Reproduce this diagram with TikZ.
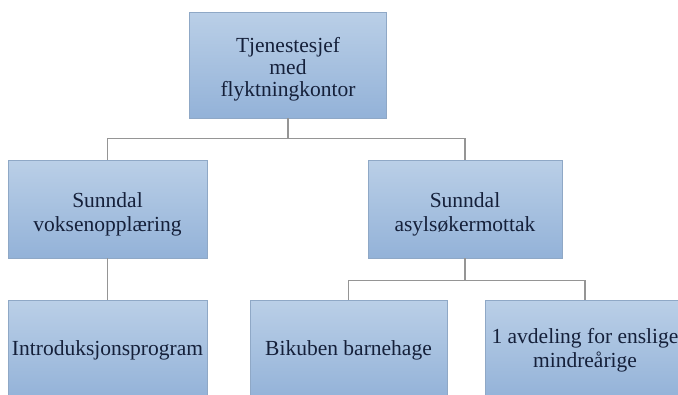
\documentclass[tikz,border=0pt]{standalone}
\usepackage{fontspec}
\setmainfont{Liberation Serif}
\newfontfamily\boxfont{Liberation Serif}
\begin{document}
\begin{tikzpicture}[x=1pt,y=1pt,
  orgbox/.style={draw=boxline, line width=0.8pt, top color=boxtop, bottom color=boxbot,
    text=navy, align=center, font=\boxfont\fontsize{21.5}{24}\selectfont, inner sep=2pt},
  boxtext/.style={text=navy, align=center, font=\boxfont\fontsize{21.5}{24}\selectfont, inner sep=0pt},
  link/.style={draw=linkgray, line width=1.4pt}]
\definecolor{boxtop}{HTML}{BACFE7}
\definecolor{boxbot}{HTML}{93B2D8}
\definecolor{boxline}{HTML}{8FA8C6}
\definecolor{navy}{HTML}{15203A}
\definecolor{linkgray}{HTML}{959595}
\useasboundingbox (0,0) rectangle (678,-394);
\clip (0,0) rectangle (678,-394);
\node[orgbox, minimum width=197, minimum height=106] (top) at (288,-65) {};
\node[boxtext, font=\boxfont\fontsize{21.5}{22}\selectfont] (topt) at ([yshift=-4pt]top.center) {Tjenestesjef\\med\\flyktningkontor};
\node[orgbox, minimum width=199, minimum height=98] (m1) at (107.5,-209) {};
\node[boxtext] (m1t) at ([yshift=-5pt]m1.center) {Sunndal\\voksenopplæring};
\node[orgbox, minimum width=194, minimum height=98] (m2) at (465,-209) {};
\node[boxtext] (m2t) at ([yshift=-5pt]m2.center) {Sunndal\\asylsøkermottak};
\node[orgbox, minimum width=199, minimum height=100] (b1) at (107.5,-350) {Introduksjonsprogram};
\node[orgbox, minimum width=197, minimum height=100] (b2) at (348.5,-350) {Bikuben barnehage};
\node[orgbox, minimum width=200, minimum height=100] (b3) at (585,-350) {1 avdeling for enslige\\mindreårige};
\draw[link] (top.south) -- ++(0,-20) -| (m1.north);
\draw[link] (top.south) -- ++(0,-20) -| (m2.north);
\draw[link] (m1.south) -- (b1.north);
\draw[link] (m2.south) -- ++(0,-22) -| (b2.north);
\draw[link] (m2.south) -- ++(0,-22) -| (b3.north);
\end{tikzpicture}
\end{document}
